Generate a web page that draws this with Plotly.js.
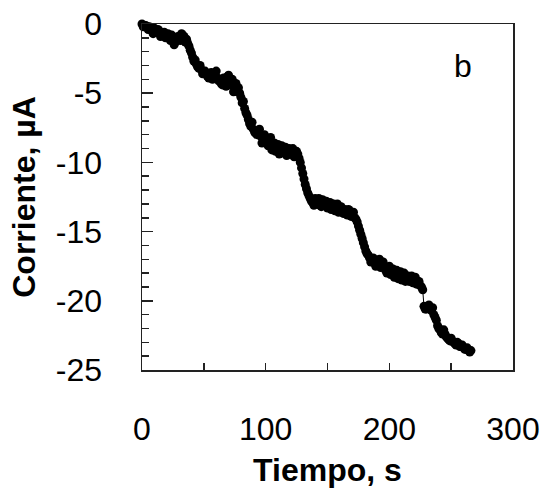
<!DOCTYPE html>
<html>
<head>
<meta charset="utf-8">
<script src="https://cdn.plot.ly/plotly-3.0.1.min.js"></script>
<style>
html,body{margin:0;padding:0;background:#fff;}
#chart{width:549px;height:488px;}
</style>
</head>
<body>
<div id="chart"></div>
<script>
// Tiempo (s)
const tiempo = [0,1,2,3,4,5,6,7,8,9,10,11,12,13,14,15,16,17,18,19,20,21,22,23,24,25,26,27,28,29,30,31,32,33,34,35,36,37,38,39,40,41,42,43,44,45,46,47,48,49,50,51,52,53,54,55,56,57,58,59,60,61,62,63,64,65,66,67,68,69,70,71,72,73,74,75,76,77,78,79,80,81,82,83,84,85,86,87,88,89,90,91,92,93,94,95,96,97,98,99,100,101,102,103,104,105,106,107,108,109,110,111,112,113,114,115,116,117,118,119,120,121,122,123,124,125,126,127,128,129,130,131,132,133,134,135,136,137,138,139,140,141,142,143,144,145,146,147,148,149,150,151,152,153,154,155,156,157,158,159,160,161,162,163,164,165,166,167,168,169,170,171,172,173,174,175,176,177,178,179,180,181,182,183,184,185,186,187,188,189,190,191,192,193,194,195,196,197,198,199,200,201,202,203,204,205,206,207,208,209,210,211,212,213,214,215,216,217,218,219,220,221,222,223,224,225,226,227,228,229,230,231,232,233,234,235,236,237,238,239,240,241,242,243,244,245,246,247,248,249,250,251,252,253,254,255,256,257,258,259,260,261,262,263,264,265,266];
// Corriente (µA)
const corriente = [0,-0.2,-0.1,-0.1,0.05,-0.4,-0.2,-0.3,-0.5,-0.7,-0.3,-0.5,-0.6,-0.4,-0.5,-0.9,-0.8,-0.7,-0.6,-1.0,-0.9,-0.7,-1.0,-1.2,-0.8,-1.1,-1.5,-1.3,-1.2,-0.9,-1.0,-1.2,-0.7,-0.8,-0.9,-1.3,-1.1,-1.4,-1.6,-1.9,-2.1,-2.4,-2.7,-2.6,-2.9,-3.1,-3.2,-3.0,-3.3,-3.6,-3.5,-3.4,-3.6,-3.8,-3.9,-3.7,-3.5,-4.0,-3.7,-3.6,-3.4,-3.9,-4.1,-4.0,-4.3,-4.4,-3.9,-4.1,-4.5,-3.8,-3.7,-4.4,-4.2,-4.0,-4.9,-4.6,-4.3,-4.9,-4.6,-5.0,-5.3,-5.7,-5.6,-6.1,-6.4,-6.6,-6.9,-7.2,-7.4,-7.1,-7.6,-7.8,-7.9,-8.0,-7.8,-7.6,-8.1,-8.6,-8.4,-8.0,-8.3,-8.6,-8.8,-8.4,-8.2,-9.1,-8.9,-8.6,-9.2,-9.0,-8.7,-9.4,-9.0,-8.8,-9.3,-9.1,-8.9,-9.5,-9.2,-9.0,-9.4,-9.3,-9.0,-9.6,-9.5,-9.2,-9.4,-9.7,-10.0,-10.4,-10.8,-11.2,-11.6,-11.9,-12.2,-12.4,-12.6,-12.8,-12.9,-13.1,-12.6,-12.8,-12.9,-12.6,-13.1,-13.2,-12.7,-13.0,-13.0,-12.8,-13.3,-13.1,-12.9,-13.4,-13.2,-13.0,-13.5,-13.2,-13.0,-13.6,-13.3,-13.2,-13.6,-13.7,-13.4,-13.5,-13.8,-13.4,-13.5,-13.9,-13.7,-13.6,-14.0,-14.1,-14.3,-14.6,-14.9,-15.2,-15.5,-15.8,-16.1,-16.4,-16.6,-16.7,-16.9,-17.2,-17.0,-16.9,-17.2,-17.5,-17.4,-17.2,-17.0,-17.6,-17.3,-17.2,-17.6,-17.8,-18.0,-17.7,-17.5,-18.1,-17.9,-17.7,-18.3,-18.2,-17.8,-18.4,-18.1,-17.9,-18.5,-18.3,-18.0,-18.6,-18.4,-18.2,-18.6,-18.4,-18.2,-18.7,-18.5,-18.3,-18.8,-18.6,-18.6,-18.9,-19.0,-19.2,-20.4,-20.6,-20.6,-20.4,-20.3,-20.6,-20.7,-20.5,-21.0,-21.2,-21.4,-21.8,-22.0,-22.1,-22.3,-22.4,-22.1,-22.4,-22.6,-22.7,-22.8,-22.9,-22.7,-22.9,-23.0,-23.1,-23.2,-23.0,-23.1,-23.3,-23.3,-23.2,-23.4,-23.5,-23.5,-23.4,-23.6,-23.7,-23.6];
const xTicks = [0,100,200,300];
const yTicks = [0,-5,-10,-15,-20,-25];
const panelLabel = "b";

const font = "Liberation Sans, Arial, Helvetica, sans-serif";

const trace = {
  x: tiempo, y: corriente,
  type: "scatter", mode: "lines+markers",
  line: {color: "#000", width: 1},
  marker: {color: "#000", size: 9},
  cliponaxis: false,
  hoverinfo: "none"
};

const layout = {
  width: 549, height: 488,
  margin: {l: 142, r: 36, t: 24, b: 118, pad: 0},
  paper_bgcolor: "#fff", plot_bgcolor: "#fff",
  showlegend: false,
  font: {family: font, color: "#000"},
  xaxis: {
    range: [0, 300], tickvals: xTicks, ticktext: xTicks.map(String),
    ticks: "inside", ticklen: 7, tickwidth: 1.5, tickcolor: "#222",
    minor: {dtick: 50, tick0: 0, ticks: "inside", ticklen: 7, tickwidth: 1.5, tickcolor: "#222"},
    showline: true, mirror: true, linecolor: "#222", linewidth: 1.5,
    showgrid: false, zeroline: false,
    tickfont: {family: font, size: 32, color: "#000"},
    ticklabelstandoff: 30,
    title: {text: "Tiempo, s", font: {family: font, size: 32, weight: "bold", color: "#000"}, standoff: 14},
    automargin: false, fixedrange: true
  },
  yaxis: {
    range: [-25, 0], tickvals: yTicks, ticktext: yTicks.map(String),
    ticks: "inside", ticklen: 11, tickwidth: 1.5, tickcolor: "#222",
    minor: {dtick: 1, tick0: 0, ticks: "inside", ticklen: 7, tickwidth: 1.5, tickcolor: "#222"},
    showline: true, mirror: true, linecolor: "#222", linewidth: 1.5,
    showgrid: false, zeroline: false,
    tickfont: {family: font, size: 32, color: "#000"},
    ticklabelstandoff: 32,
    title: {text: "Corriente, µA", font: {family: font, size: 32, weight: "bold", color: "#000"}, standoff: 10},
    automargin: false, fixedrange: true
  },
  annotations: [{
    text: panelLabel, xref: "paper", yref: "paper", x: 0.865, y: 0.88,
    showarrow: false, xanchor: "center", yanchor: "middle",
    font: {family: font, size: 32, color: "#000"}
  }]
};

Plotly.newPlot("chart", [trace], layout, {displayModeBar: false, staticPlot: true});
</script>
</body>
</html>
